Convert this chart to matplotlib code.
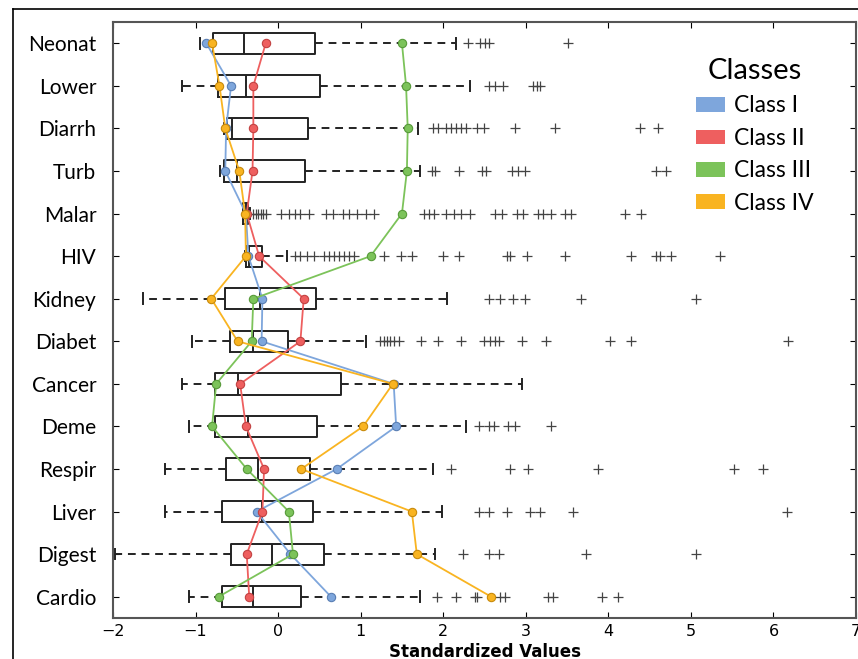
import numpy as np
import matplotlib.pyplot as plt
from matplotlib.patches import Patch
from matplotlib.lines import Line2D

# categorias (de arriba hacia abajo)
causas = ['Neonat', 'Lower', 'Diarrh', 'Turb', 'Malar', 'HIV', 'Kidney',
          'Diabet', 'Cancer', 'Deme', 'Respir', 'Liver', 'Digest', 'Cardio']

# estadisticos de cada caja
bigote_inf = [-0.95, -1.17, -0.65, -0.70, -0.43, -0.40, -1.64,
              -1.04, -1.16, -1.08, -1.37, -1.37, -1.98, -1.08]
q1 = [-0.79, -0.73, -0.62, -0.66, -0.42, -0.39, -0.64,
      -0.58, -0.76, -0.76, -0.63, -0.68, -0.57, -0.68]
mediana = [-0.41, -0.39, -0.56, -0.50, -0.39, -0.35, -0.22,
           -0.31, -0.49, -0.36, -0.24, -0.20, -0.08, -0.31]
q3 = [0.45, 0.51, 0.36, 0.33, -0.36, -0.19, 0.46,
      0.12, 0.76, 0.47, 0.39, 0.42, 0.56, 0.28]
bigote_sup = [2.15, 2.32, 1.69, 1.72, -0.34, 0.11, 2.04,
              1.07, 2.96, 2.27, 1.88, 1.99, 1.90, 1.72]

# valores atipicos
atipicos = [
    [2.30, 2.45, 2.50, 2.55, 3.51],
    [2.55, 2.63, 2.73, 3.09, 3.13, 3.17],
    [1.88, 1.94, 2.03, 2.10, 2.16, 2.21, 2.27, 2.41, 2.49, 2.87, 3.36, 4.38, 4.60],
    [1.86, 1.90, 2.19, 2.47, 2.52, 2.83, 2.91, 2.99, 4.58, 4.70],
    [-0.31, -0.27, -0.24, -0.21, -0.18, -0.15, 0.03, 0.13, 0.21, 0.26, 0.37, 0.58,
     0.66, 0.78, 0.86, 0.96, 1.06, 1.16, 1.77, 1.83, 1.89, 2.03, 2.13, 2.21, 2.33,
     2.63, 2.71, 2.89, 2.97, 3.15, 3.21, 3.30, 3.48, 3.55, 4.20, 4.40],
    [0.21, 0.26, 0.35, 0.43, 0.56, 0.62, 0.68, 0.74, 0.80, 0.86, 0.92, 1.28, 1.49,
     1.62, 2.00, 2.19, 2.77, 2.81, 3.01, 3.47, 4.28, 4.58, 4.62, 4.76, 5.35],
    [2.55, 2.69, 2.85, 2.99, 3.67, 5.06],
    [1.24, 1.28, 1.32, 1.36, 1.40, 1.46, 1.73, 1.94, 2.22, 2.49, 2.57, 2.63, 2.67,
     2.95, 3.24, 4.02, 4.28, 6.18],
    [],
    [2.43, 2.55, 2.61, 2.79, 2.87, 3.30],
    [2.10, 2.81, 3.03, 3.88, 5.52, 5.87],
    [2.43, 2.55, 2.77, 3.05, 3.17, 3.57, 6.16],
    [2.24, 2.55, 2.67, 3.73, 5.06],
    [1.93, 2.15, 2.39, 2.41, 2.69, 2.75, 3.27, 3.33, 3.92, 4.12],
]

# medias por clase
clase_1 = [-0.87, -0.57, -0.63, -0.64, -0.39, -0.36, -0.19,
           -0.20, 1.40, 1.43, 0.71, -0.26, 0.15, 0.64]
clase_2 = [-0.15, -0.30, -0.30, -0.31, -0.38, -0.23, 0.31,
           0.27, -0.46, -0.39, -0.17, -0.19, -0.38, -0.35]
clase_3 = [1.50, 1.55, 1.57, 1.56, 1.50, 1.12, -0.30,
           -0.32, -0.75, -0.80, -0.38, 0.13, 0.18, -0.72]
clase_4 = [-0.80, -0.71, -0.64, -0.47, -0.40, -0.39, -0.81,
           -0.49, 1.39, 1.03, 0.28, 1.62, 1.68, 2.58]

clases = ['Class I', 'Class II', 'Class III', 'Class IV']
colores = ['#7ea6dc', '#ee5f5f', '#7cc35a', '#f9b421']
bordes = ['#5a7fb4', '#c24242', '#579a3a', '#c88a0c']

pos = np.arange(len(causas), 0, -1)

fig = plt.figure(figsize=(8.58, 6.59), dpi=100)
ax = fig.add_axes([113 / 858, 41 / 659, 743 / 858, 596 / 659])

stats = []
for i in range(len(causas)):
    stats.append(dict(whislo=bigote_inf[i], q1=q1[i], med=mediana[i], q3=q3[i],
                      whishi=bigote_sup[i], fliers=atipicos[i]))

ax.bxp(stats, positions=pos, vert=False, widths=0.5, capwidths=0.25,
       boxprops=dict(color='#222222', linewidth=1.4),
       medianprops=dict(color='#222222', linewidth=1.4),
       whiskerprops=dict(color='#222222', linewidth=1.4, linestyle=(0, (4, 3))),
       capprops=dict(color='#222222', linewidth=1.4),
       flierprops=dict(marker='+', markeredgecolor='#444444', markersize=7,
                       markeredgewidth=0.9))

for serie, c, b in zip([clase_1, clase_2, clase_3, clase_4], colores, bordes):
    ax.plot(serie, pos, color=c, linewidth=1.3, marker='o', markersize=6,
            markerfacecolor=c, markeredgecolor=b, markeredgewidth=0.8, zorder=5)

ax.set_xlim(-2, 7)
ax.set_ylim(0.5, len(causas) + 0.5)
ax.set_yticks(pos)
ax.set_yticklabels(causas, fontsize=15, family='Lato')
ax.set_xticks(np.arange(-2, 8))
ax.tick_params(axis='x', labelsize=11.5, direction='in', top=True, length=4, pad=4)
ax.tick_params(axis='y', direction='in', right=True, length=4, pad=12)
for s in ax.spines.values():
    s.set_color('#555555')
    s.set_linewidth(1.5)
ax.set_xlabel('Standardized Values', fontsize=12, fontweight='bold', labelpad=3)

manijas = [Patch(facecolor=c, edgecolor='none') for c in colores]
leg = ax.legend(manijas, clases, loc='upper right', bbox_to_anchor=(0.955, 0.955),
                frameon=False, title='Classes', title_fontsize=21,
                handlelength=1.25, handleheight=0.6, handletextpad=0.4,
                labelspacing=0.5, borderaxespad=0,
                prop={'family': 'Lato', 'size': 16.5})
leg.get_title().set_family('Lato')

# marco exterior de la imagen
fig.add_artist(Line2D([13 / 858, 13 / 858], [0, 1 - 9 / 659], color='black', linewidth=1.2))
fig.add_artist(Line2D([13 / 858, 1], [1 - 9 / 659, 1 - 9 / 659], color='black', linewidth=1.2))

fig.savefig('out.png', dpi=100)
